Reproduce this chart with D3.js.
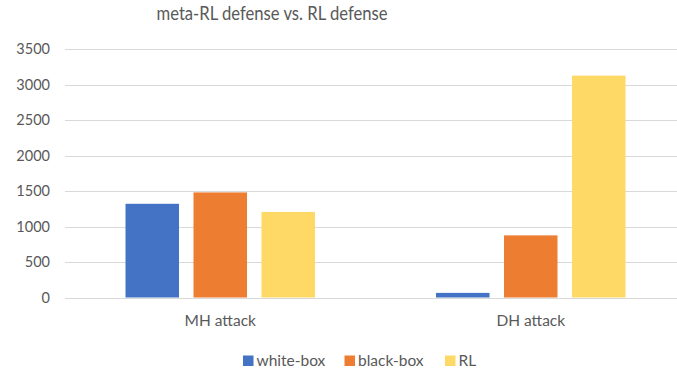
<!DOCTYPE html>
<html>
<head>
<meta charset="utf-8">
<script src="https://cdn.jsdelivr.net/npm/d3@7"></script>
<style>
  html, body { margin: 0; padding: 0; background: #fff; }
  svg { display: block; font-family: Lato, "Open Sans", sans-serif; }
</style>
</head>
<body>
<svg id="chart" width="677" height="372"></svg>
<script>
// Chart data
const categories = ["MH attack", "DH attack"];
const seriesNames = ["white-box", "black-box", "RL"];
const whiteBox = [1320, 65];
const blackBox = [1480, 875];
const rlValues = [1205, 3125];
const yTicks = [0, 500, 1000, 1500, 2000, 2500, 3000, 3500];
const colors = ["#4472C4", "#ED7D31", "#FFD966"];

const seriesValues = [whiteBox, blackBox, rlValues];
const svg = d3.select("#chart");

const plot = { left: 65, right: 686, top: 49, bottom: 297.5 };

const x0 = d3.scaleBand().domain(categories).range([plot.left, plot.right]).paddingInner(0).paddingOuter(0);
const x1 = d3.scaleBand().domain(seriesNames).range([0, x0.bandwidth()])
  .paddingInner(0.213).paddingOuter(0.89);
const y = d3.scaleLinear().domain([0, 3500]).range([plot.bottom, plot.top]);

// Title
svg.append("text")
  .attr("x", 272).attr("y", 19.5)
  .attr("text-anchor", "middle")
  .attr("font-size", 18.5)
  .attr("fill", "#595959")
  .attr("textLength", 231).attr("lengthAdjust", "spacingAndGlyphs")
  .text("meta-RL defense vs. RL defense");

// Gridlines
svg.append("g")
  .selectAll("line")
  .data(yTicks)
  .join("line")
  .attr("x1", plot.left).attr("x2", plot.right)
  .attr("y1", d => Math.round(y(d)) + 0.5).attr("y2", d => Math.round(y(d)) + 0.5)
  .attr("stroke", "#D9D9D9").attr("stroke-width", 1);

// Y axis labels
const yAxis = d3.axisLeft(y).tickValues(yTicks).tickFormat(d3.format("d")).tickSize(0).tickPadding(0);
const yg = svg.append("g").attr("transform", `translate(50,0)`).call(yAxis);
yg.select(".domain").remove();
yg.selectAll("text").attr("font-size", 14.5).attr("fill", "#595959")
  .attr("font-family", "Lato, 'Open Sans', sans-serif");

// Bars
const groups = svg.append("g")
  .selectAll("g")
  .data(categories)
  .join("g")
  .attr("transform", d => `translate(${x0(d)},0)`);

groups.selectAll("rect")
  .data((c, i) => seriesNames.map((s, j) => ({ s, v: seriesValues[j][i], j })))
  .join("rect")
  .attr("x", d => x1(d.s))
  .attr("width", x1.bandwidth())
  .attr("y", d => y(d.v))
  .attr("height", d => y(0) - y(d.v))
  .attr("fill", d => colors[d.j]);

// Category labels
const xAxis = d3.axisBottom(x0).tickSize(0).tickPadding(0);
const xg = svg.append("g").attr("transform", `translate(0,${plot.bottom + 17})`).call(xAxis);
xg.select(".domain").remove();
xg.selectAll("text").attr("font-size", 15.5).attr("fill", "#595959")
  .attr("font-family", "Lato, 'Open Sans', sans-serif");

// Legend
const legendItems = [
  { name: seriesNames[0], color: colors[0], x: 243 },
  { name: seriesNames[1], color: colors[1], x: 344.5 },
  { name: seriesNames[2], color: colors[2], x: 445 }
];
const lg = svg.append("g").selectAll("g").data(legendItems).join("g")
  .attr("transform", d => `translate(${d.x},355.5)`);
lg.append("rect").attr("width", 10.5).attr("height", 10.5).attr("fill", d => d.color);
lg.append("text").attr("x", 13.5).attr("y", 10.5)
  .attr("font-size", 15.5).attr("fill", "#595959")
  .text(d => d.name);
</script>
</body>
</html>
